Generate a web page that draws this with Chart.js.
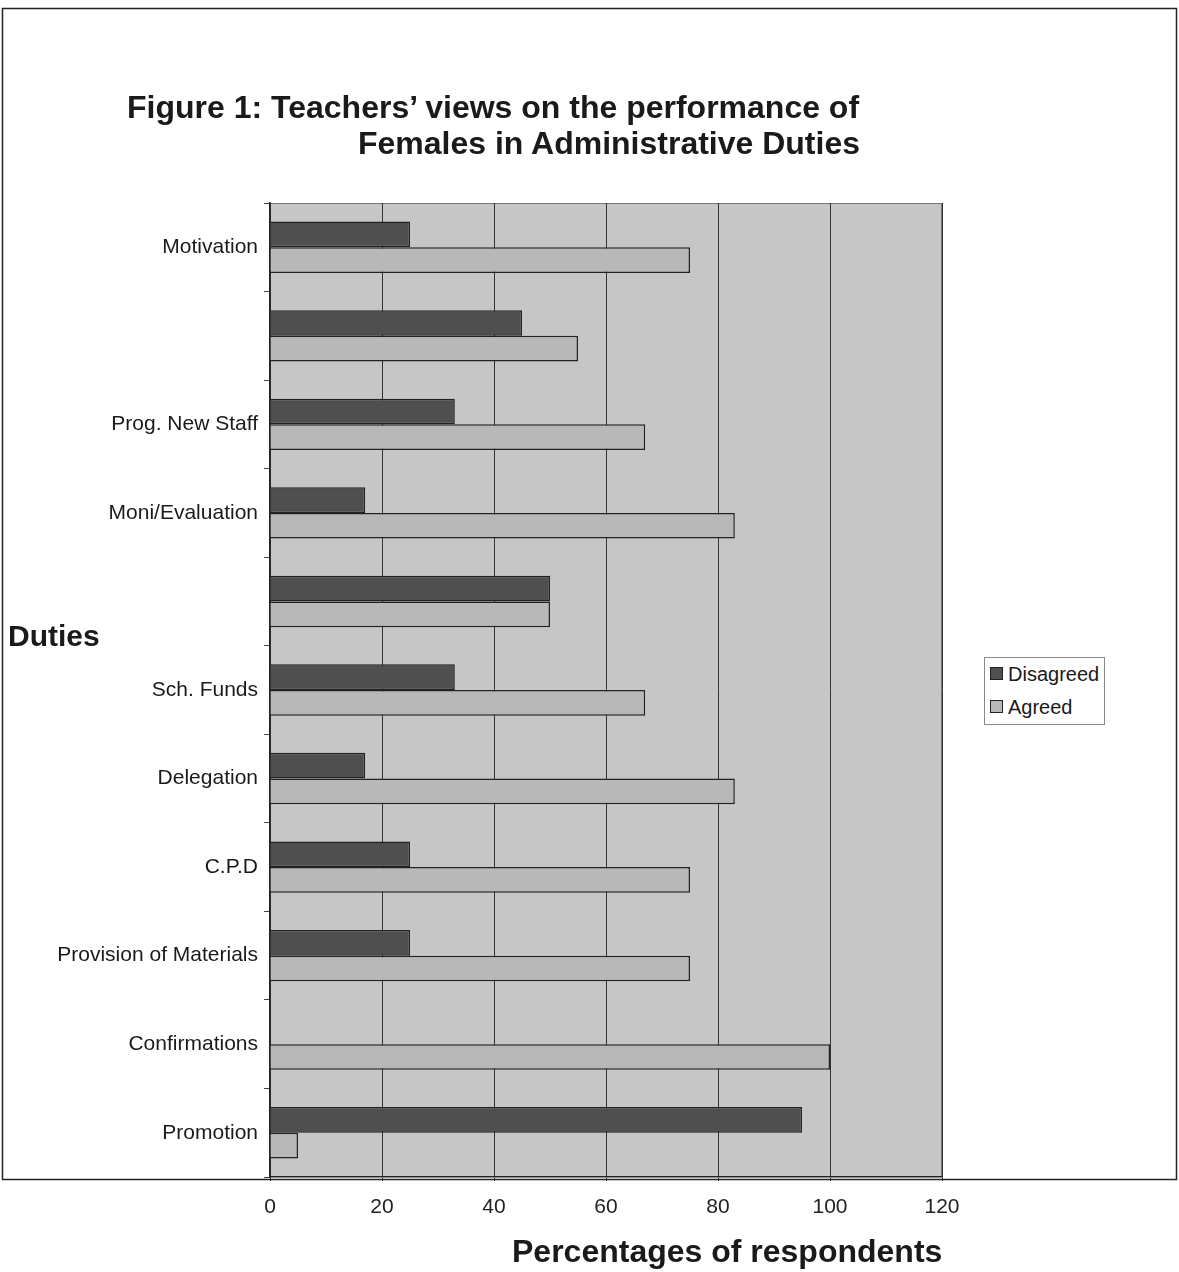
<!DOCTYPE html>
<html>
<head>
<meta charset="utf-8">
<script src="https://cdn.jsdelivr.net/npm/chart.js@4"></script>
<style>
  body { margin: 0; background: #fff; }
  .wrap { position: relative; width: 1179px; height: 1272px; font-family: "Liberation Sans", Arial, sans-serif; color: #1a1a1a; }
  canvas { position: absolute; left: 0; top: 0; }
  .title { position: absolute; font-weight: bold; font-size: 32px; white-space: nowrap; }
  .legend { position: absolute; left: 984px; top: 657px; width: 121px; height: 68px; background: #fff; border: 1px solid #888; font-size: 20px; box-sizing: border-box; }
  .legend div { position: absolute; left: 5px; }
  .legend span { display: inline-block; width: 11px; height: 11px; border: 1px solid #222; margin-right: 5px; vertical-align: 1px; }
</style>
</head>
<body>
<div class="wrap">
  <canvas id="myChart" width="1179" height="1272"></canvas>
  <div class="title" style="left:127px; top:89px;">Figure 1: Teachers’ views on the performance of</div>
  <div class="title" style="right:319px; top:125px;">Females in Administrative Duties</div>
  <div class="title" style="left:8px; top:619px; font-size:30px;">Duties</div>
  <div class="title" style="left:512px; top:1233px;">Percentages of respondents</div>
  <div class="legend">
    <div style="top:5px;"><span style="background:#4f4f4f"></span>Disagreed</div>
    <div style="top:38px;"><span style="background:#b8b8b8"></span>Agreed</div>
  </div>
</div>
<script>
/* DATA */

var categories = ['Motivation', '', 'Prog. New Staff', 'Moni/Evaluation', '', 'Sch. Funds',
                  'Delegation', 'C.P.D', 'Provision of Materials', 'Confirmations', 'Promotion'];
var disagreed = [25, 45, 33, 17, 50, 33, 17, 25, 25, 0, 95];
var agreed = [75, 55, 67, 83, 50, 67, 83, 75, 75, 100, 5];
var xTicks = [0, 20, 40, 60, 80, 100, 120];

/* BACKGROUND + FRAME */

var frame = {
  id: 'frame',
  beforeDraw: function(chart) {
    var c = chart.ctx, a = chart.chartArea;
    c.save();
    c.fillStyle = '#c6c6c6';
    c.fillRect(a.left, a.top, a.right - a.left, a.bottom - a.top);
    c.strokeStyle = '#777';
    c.lineWidth = 1;
    c.strokeRect(a.left + 0.5, a.top + 0.5, a.right - a.left - 1, a.bottom - a.top - 1);
    c.restore();
  },
  afterDraw: function(chart) {
    var c = chart.ctx;
    c.save();
    c.strokeStyle = '#222';
    c.lineWidth = 1.5;
    c.strokeRect(2.5, 8.5, 1174, 1171);
    c.restore();
  }
};

/* CHART */

var ctx = document.getElementById('myChart').getContext('2d');

var chart = new Chart(ctx, {
  type: 'bar',
  data: {
    labels: categories,
    datasets: [{
      label: 'Disagreed',
      backgroundColor: '#4f4f4f',
      borderColor: '#222',
      borderWidth: 1.5,
      data: disagreed,
    },
    {
      label: 'Agreed',
      backgroundColor: '#b8b8b8',
      borderColor: '#222',
      borderWidth: 1.5,
      data: agreed,
    }]
  },
  options: {
    indexAxis: 'y',
    responsive: false,
    animation: false,
    datasets: { bar: { categoryPercentage: 0.58, barPercentage: 1 } },
    layout: { padding: { left: 0, top: 203, right: 237, bottom: 0 } },
    plugins: { legend: { display: false }, tooltip: { enabled: false } },
    scales: {
      x: {
        min: 0, max: 120,
        afterBuildTicks: function(s) { s.ticks = xTicks.map(function(v) { return { value: v }; }); },
        afterFit: function(s) { s.height = 95; },
        grid: { color: '#333', lineWidth: 1, tickLength: 4, drawTicks: true },
        border: { color: '#222', width: 1.5 },
        ticks: { color: '#222', padding: 14, font: { family: 'Liberation Sans', size: 21 } }
      },
      y: {
        afterFit: function(s) { s.width = 270; },
        grid: { drawOnChartArea: false, offset: true, tickLength: 6, color: '#444' },
        border: { color: '#222', width: 1.5 },
        ticks: { color: '#1a1a1a', padding: 6, autoSkip: false, font: { family: 'Liberation Sans', size: 21 } }
      }
    }
  },
  plugins: [frame]
});
</script>
</body>
</html>
